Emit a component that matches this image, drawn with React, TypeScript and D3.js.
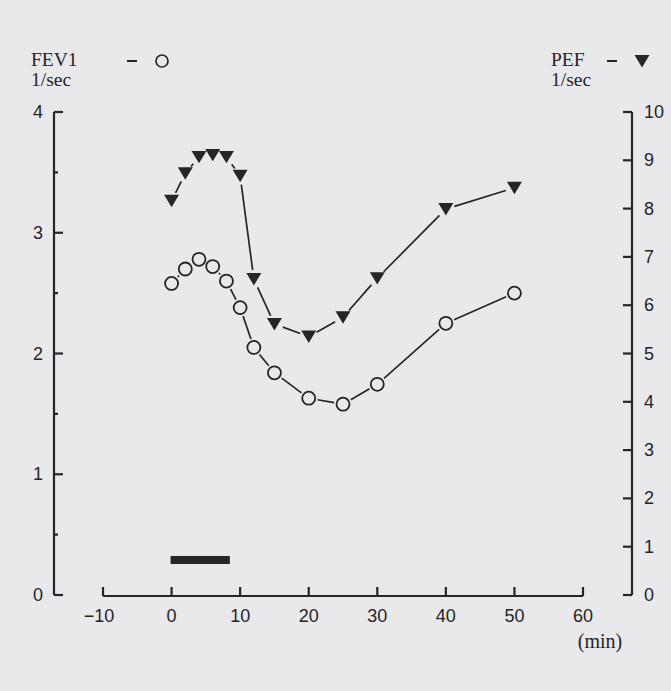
import React from 'react';
import * as d3 from 'd3';

// minutes after start
const minutes = [0, 2, 4, 6, 8, 10, 12, 15, 20, 25, 30, 40, 50];
// FEV1, l/sec (left axis)
const fev1 = [2.58, 2.7, 2.78, 2.72, 2.6, 2.38, 2.05, 1.84, 1.63, 1.58, 1.745, 2.25, 2.5];
// PEF, l/sec (right axis)
const pef = [8.16, 8.73, 9.07, 9.11, 9.07, 8.68, 6.54, 5.61, 5.35, 5.75, 6.56, 7.99, 8.43];

const xTicks = [-10, 0, 10, 20, 30, 40, 50, 60];
const leftTicks = [0, 1, 2, 3, 4];
const leftMinor = [0.5, 1.5, 2.5, 3.5];
const rightTicks = [0, 1, 2, 3, 4, 5, 6, 7, 8, 9, 10];

// exposure bar (minutes) and its height on the FEV1 scale
const exposure = [0, 8.5];
const exposureLevel = 0.29;

const W = 671;
const H = 691;
const INK = '#262527';
const BG = '#e9e9eb';
const SANS = '"Liberation Sans", Arial, sans-serif';
const SERIF = '"Liberation Serif", "Times New Roman", serif';

const x = d3.scaleLinear().domain([-10, 60]).range([103, 583]);
const yL = d3.scaleLinear().domain([0, 4]).range([595, 112]);
const yR = d3.scaleLinear().domain([0, 10]).range([595, 112]);

const triPath = (cx: number, cy: number, s = 7.5) =>
  `M${cx - s},${cy - s * 0.8}L${cx + s},${cy - s * 0.8}L${cx},${cy + s * 0.85}Z`;

// line segments between markers, trimmed so they stop short of the symbols
function gappedSegments(pts: [number, number][], gap: number) {
  const out: string[] = [];
  for (let i = 0; i < pts.length - 1; i++) {
    const [x0, y0] = pts[i];
    const [x1, y1] = pts[i + 1];
    const len = Math.hypot(x1 - x0, y1 - y0);
    if (len <= gap * 2 + 1) continue;
    const ux = (x1 - x0) / len;
    const uy = (y1 - y0) / len;
    out.push(`M${x0 + ux * gap},${y0 + uy * gap}L${x1 - ux * gap},${y1 - uy * gap}`);
  }
  return out;
}

export default function App() {
  const fevPts: [number, number][] = minutes.map((m, i) => [x(m), yL(fev1[i])]);
  const pefPts: [number, number][] = minutes.map((m, i) => [x(m), yR(pef[i])]);
  const xAxisY = 596;
  const leftX = 54;
  const rightX = 632;

  return (
    <svg width={W} height={H} style={{ position: 'absolute', left: 0, top: 0, display: 'block' }}>
      <rect x={0} y={0} width={W} height={H} fill={BG} />

      {/* legend */}
      <g fill={INK} fontFamily={SERIF} fontSize={19.5}>
        <text x={31} y={66}>FEV1</text>
        <text x={31} y={86}>1/sec</text>
        <text x={551} y={66}>PEF</text>
        <text x={551} y={86}>1/sec</text>
      </g>
      <line x1={127} x2={137} y1={61} y2={61} stroke={INK} strokeWidth={2} />
      <circle cx={162} cy={61} r={6} fill={BG} stroke={INK} strokeWidth={1.7} />
      <line x1={607} x2={617} y1={61} y2={61} stroke={INK} strokeWidth={2} />
      <path d={triPath(642, 61)} fill={INK} />

      {/* left axis */}
      <g stroke={INK} strokeWidth={2.2} fill="none">
        <line x1={leftX} x2={leftX} y1={yL(4)} y2={yL(0)} />
        {leftTicks.map(t => (
          <line key={t} x1={leftX} x2={leftX + 9} y1={yL(t)} y2={yL(t)} />
        ))}
        {leftMinor.map(t => (
          <line key={t} x1={leftX} x2={leftX + 4} y1={yL(t)} y2={yL(t)} />
        ))}
      </g>
      <g fill={INK} fontFamily={SANS} fontSize={18} textAnchor="end">
        {leftTicks.map(t => (
          <text key={t} x={43} y={yL(t) + 6}>{t}</text>
        ))}
      </g>

      {/* right axis */}
      <g stroke={INK} strokeWidth={2.2} fill="none">
        <line x1={rightX} x2={rightX} y1={yR(10)} y2={yR(0)} />
        {rightTicks.map(t => (
          <line key={t} x1={rightX - 9} x2={rightX} y1={yR(t)} y2={yR(t)} />
        ))}
      </g>
      <g fill={INK} fontFamily={SANS} fontSize={18} textAnchor="start">
        {rightTicks.map(t => (
          <text key={t} x={644} y={yR(t) + 6}>{t}</text>
        ))}
      </g>

      {/* x axis */}
      <g stroke={INK} strokeWidth={2.2} fill="none">
        <line x1={x(-10)} x2={x(60)} y1={xAxisY} y2={xAxisY} />
        {xTicks.map(t => (
          <line key={t} x1={x(t)} x2={x(t)} y1={xAxisY} y2={xAxisY - 9} />
        ))}
      </g>
      <g fill={INK} fontFamily={SANS} fontSize={18} textAnchor="middle">
        {xTicks.map(t => (
          <text key={t} x={x(t) - (t < 0 ? 4 : 0)} y={622}>{t < 0 ? `\u2212${-t}` : t}</text>
        ))}
      </g>
      <text x={600} y={648} fill={INK} fontFamily={SERIF} fontSize={20} textAnchor="middle">(min)</text>

      {/* exposure bar */}
      <rect
        x={x(exposure[0]) - 1}
        y={yL(exposureLevel) - 4}
        width={x(exposure[1]) - x(exposure[0]) + 1}
        height={8}
        fill={INK}
      />

      {/* PEF series */}
      <g stroke={INK} strokeWidth={1.7} fill="none">
        {gappedSegments(pefPts, 9).map((d, i) => <path key={i} d={d} />)}
      </g>
      {pefPts.map(([px, py], i) => (
        <path key={i} d={triPath(px, py)} fill={INK} />
      ))}

      {/* FEV1 series */}
      <g stroke={INK} strokeWidth={1.7} fill="none">
        {gappedSegments(fevPts, 9).map((d, i) => <path key={i} d={d} />)}
      </g>
      {fevPts.map(([px, py], i) => (
        <circle key={i} cx={px} cy={py} r={6.5} fill={BG} stroke={INK} strokeWidth={1.8} />
      ))}
    </svg>
  );
}
